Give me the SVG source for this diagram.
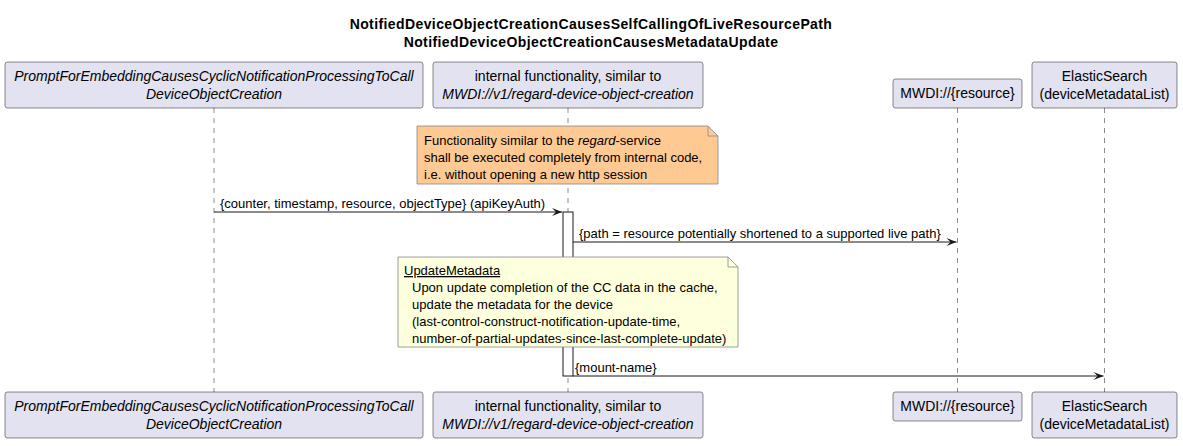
<svg xmlns="http://www.w3.org/2000/svg" width="1183" height="446" viewBox="0 0 1183 446">
<style>
text{font-family:"Liberation Sans",Arial,sans-serif;fill:#000}
.title{font-size:14px;font-weight:bold;text-anchor:middle;letter-spacing:0.4px}
.pt{font-size:14px;text-anchor:middle}
.it{font-style:italic}
.box{fill:#E2E2F0;stroke:#181818;stroke-width:0.5}
.life{stroke:#181818;stroke-width:0.5;stroke-dasharray:5,5;fill:none}
.msg{stroke:#181818;stroke-width:1;fill:none}
.ml{font-size:13px}
.nt{font-size:13px}
</style>
<defs>
<marker id="ah" markerWidth="12" markerHeight="10" refX="11" refY="5" orient="auto" markerUnits="userSpaceOnUse">
<path d="M1,1 L11,5 L1,9 L5,5 Z" fill="#181818"/>
</marker>
</defs>
<text class="title" x="591" y="29">NotifiedDeviceObjectCreationCausesSelfCallingOfLiveResourcePath</text>
<text class="title" x="591" y="47">NotifiedDeviceObjectCreationCausesMetadataUpdate</text>
<g id="lifelines">
<line class="life" x1="214" y1="108" x2="214" y2="392"/>
<line class="life" x1="568" y1="108" x2="568" y2="392"/>
<line class="life" x1="957.5" y1="108" x2="957.5" y2="392"/>
<line class="life" x1="1104.5" y1="108" x2="1104.5" y2="392"/>
</g>
<g id="p1">
<rect class="box" x="5" y="62" width="418" height="46" rx="2.5"/>
<text class="pt it" x="214" y="81">PromptForEmbeddingCausesCyclicNotificationProcessingToCall</text>
<text class="pt it" x="214" y="99">DeviceObjectCreation</text>
<rect class="box" x="5" y="392" width="418" height="46" rx="2.5"/>
<text class="pt it" x="214" y="411">PromptForEmbeddingCausesCyclicNotificationProcessingToCall</text>
<text class="pt it" x="214" y="429">DeviceObjectCreation</text>
</g>
<g id="p2">
<rect class="box" x="433" y="62" width="270" height="46" rx="2.5"/>
<text class="pt" x="568" y="81">internal functionality, similar to</text>
<text class="pt it" x="568" y="99">MWDI://v1/regard-device-object-creation</text>
<rect class="box" x="433" y="392" width="270" height="46" rx="2.5"/>
<text class="pt" x="568" y="411">internal functionality, similar to</text>
<text class="pt it" x="568" y="429">MWDI://v1/regard-device-object-creation</text>
</g>
<g id="p3">
<rect class="box" x="893" y="79" width="129" height="29" rx="2.5"/>
<text class="pt" x="957.5" y="98">MWDI://{resource}</text>
<rect class="box" x="893" y="392" width="129" height="29" rx="2.5"/>
<text class="pt" x="957.5" y="411">MWDI://{resource}</text>
</g>
<g id="p4">
<rect class="box" x="1032" y="62" width="145" height="46" rx="2.5"/>
<text class="pt" x="1104.5" y="81">ElasticSearch</text>
<text class="pt" x="1104.5" y="99">(deviceMetadataList)</text>
<rect class="box" x="1032" y="392" width="145" height="46" rx="2.5"/>
<text class="pt" x="1104.5" y="411">ElasticSearch</text>
<text class="pt" x="1104.5" y="429">(deviceMetadataList)</text>
</g>
<g id="activation">
<rect x="563" y="212" width="10" height="164" fill="#FFFFFF" stroke="#181818" stroke-width="1"/>
</g>
<g id="note1">
<path d="M417,126 L708,126 L718,136 L718,184 L417,184 Z" fill="#FFC993" stroke="#888" stroke-width="0.8"/>
<path d="M708,126 L708,136 L718,136" fill="none" stroke="#888" stroke-width="0.8"/>
<text class="nt" x="424" y="145">Functionality similar to the <tspan font-style="italic">regard</tspan>-service</text>
<text class="nt" x="424" y="162">shall be executed completely from internal code,</text>
<text class="nt" x="424" y="179">i.e. without opening a new http session</text>
</g>
<g id="note2">
<path d="M398,257 L728,257 L738,267 L738,347 L398,347 Z" fill="#FEFFDD" stroke="#888" stroke-width="0.8"/>
<path d="M728,257 L728,267 L738,267" fill="none" stroke="#888" stroke-width="0.8"/>
<text class="nt" x="404" y="275" text-decoration="underline">UpdateMetadata</text>
<text class="nt" x="412" y="292">Upon update completion of the CC data in the cache,</text>
<text class="nt" x="412" y="309">update the metadata for the device</text>
<text class="nt" x="412" y="326">(last-control-construct-notification-update-time,</text>
<text class="nt" x="412" y="343">number-of-partial-updates-since-last-complete-update)</text>
</g>
<g id="connectors">
<line class="msg" x1="214" y1="212" x2="562" y2="212" marker-end="url(#ah)"/>
<text class="ml" x="220" y="208">{counter, timestamp, resource, objectType} (apiKeyAuth)</text>
<line class="msg" x1="573" y1="242" x2="956.5" y2="242" marker-end="url(#ah)"/>
<text class="ml" x="579" y="238">{path = resource potentially shortened to a supported live path}</text>
<line class="msg" x1="573" y1="376" x2="1103.5" y2="376" marker-end="url(#ah)"/>
<text class="ml" x="575" y="372">{mount-name}</text>
</g>
</svg>
